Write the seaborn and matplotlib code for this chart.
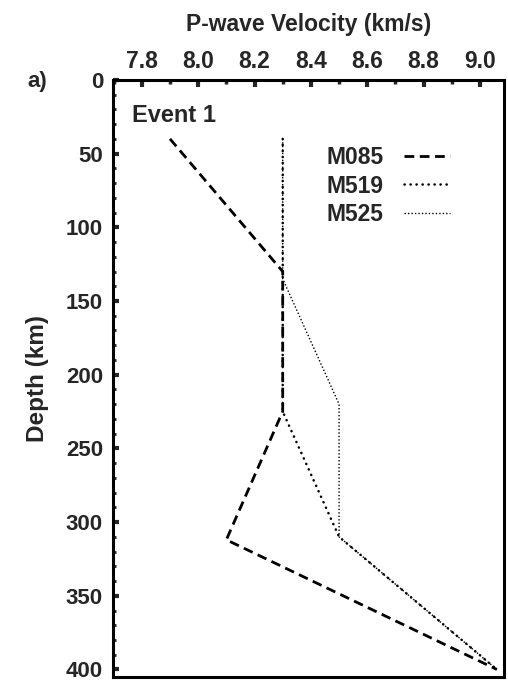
import numpy as np
import pandas as pd
import matplotlib
matplotlib.use('Agg')
import matplotlib.pyplot as plt
import seaborn as sns
from matplotlib.ticker import MultipleLocator

# Profils de vitesse P (Event 1)
m085_vel = [7.90, 8.30, 8.30, 8.10, 9.06]
m085_depth = [40, 130, 225, 312, 400]

m519_vel = [8.30, 8.30, 8.50, 9.06]
m519_depth = [40, 225, 310, 400]

m525_vel = [8.30, 8.30, 8.50, 8.50, 9.06]
m525_depth = [40, 135, 220, 310, 400]

x_ticks = [7.8, 8.0, 8.2, 8.4, 8.6, 8.8, 9.0]
y_ticks = [0, 50, 100, 150, 200, 250, 300, 350, 400]

sns.set_style('ticks')
plt.rcParams['font.family'] = ['Liberation Sans', 'DejaVu Sans']
plt.rcParams['font.weight'] = 'bold'

fig = plt.figure(figsize=(5.08, 6.83), dpi=100)
ax = fig.add_axes([0.222, 0.009, 0.770, 0.874])

sns.lineplot(x=m085_vel, y=m085_depth, sort=False, estimator=None, ax=ax,
             color='black', lw=2.0, linestyle=(0, (3.5, 2.0)), label='M085')
sns.lineplot(x=m519_vel, y=m519_depth, sort=False, estimator=None, ax=ax,
             color='black', lw=1.8, linestyle=(0, (0.1, 2.3)),
             dash_capstyle='round', label='M519')
sns.lineplot(x=m525_vel, y=m525_depth, sort=False, estimator=None, ax=ax,
             color='black', lw=1.0, linestyle=(0, (1, 1.5)), label='M525')

ax.set_xlim(7.697, 9.085)
ax.set_ylim(405, 0)
ax.xaxis.tick_top()
ax.xaxis.set_label_position('top')
ax.set_xticks(x_ticks)
ax.set_xticklabels([f'{v:.1f}' for v in x_ticks])
ax.set_yticks(y_ticks)
ax.xaxis.set_minor_locator(MultipleLocator(0.1))
ax.yaxis.set_minor_locator(MultipleLocator(10))

ax.tick_params(axis='x', which='major', direction='in', length=5, width=3,
               labelsize=16.5, pad=5)
ax.tick_params(axis='x', which='minor', direction='in', length=3, width=2.5)
ax.tick_params(axis='y', which='major', direction='in', length=4, width=3,
               labelsize=16, pad=7)
ax.tick_params(axis='y', which='minor', direction='in', length=2, width=2)

for lab in ax.get_xticklabels() + ax.get_yticklabels():
    lab.set_fontweight('bold')

for side in ['top', 'bottom', 'left', 'right']:
    ax.spines[side].set_linewidth(2.2)
    ax.spines[side].set_color('black')

ax.set_xlabel('P-wave Velocity (km/s)', fontsize=16.5, fontweight='bold', labelpad=14)
ax.set_ylabel('Depth (km)', fontsize=17.5, fontweight='bold', labelpad=12)

ax.text(0.049, 0.94, 'Event 1', transform=ax.transAxes, fontsize=17,
        fontweight='bold', ha='left', va='center')
fig.text(0.053, 0.88, 'a)', fontsize=16, fontweight='bold', ha='left', va='center')

leg = ax.legend(loc='upper right', bbox_to_anchor=(0.885, 0.905), frameon=False,
                markerfirst=False, fontsize=16.5, handlelength=2.0,
                labelspacing=0.25, handletextpad=0.9, borderaxespad=0)
for t in leg.get_texts():
    t.set_fontweight('bold')

fig.savefig('out.png', dpi=100)
